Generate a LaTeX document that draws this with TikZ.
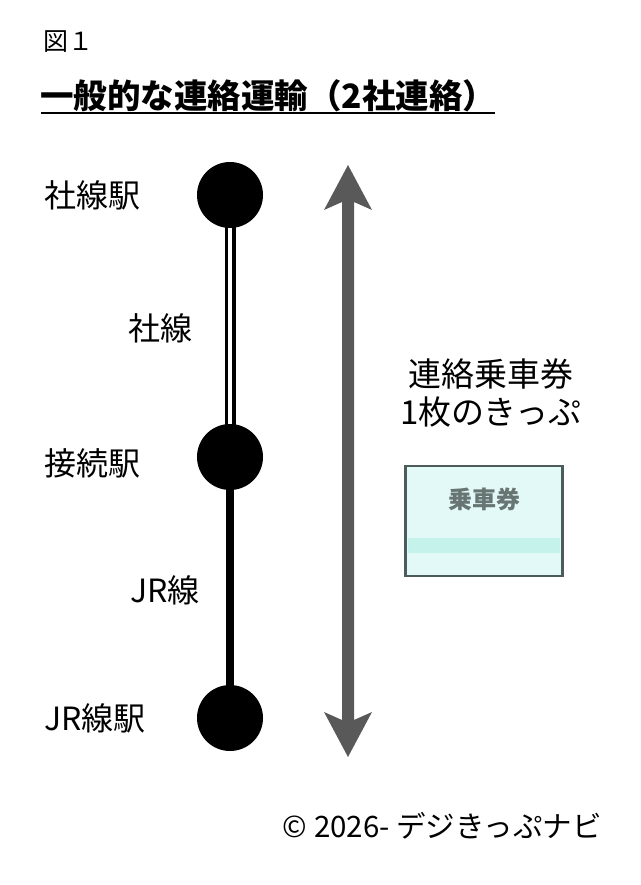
\documentclass[tikz,border=0pt]{standalone}
\usepackage{fontspec}
\setmainfont{Noto Sans CJK JP}
\definecolor{tb}{HTML}{4C5C5A}
\definecolor{tfill}{HTML}{E3F9F7}
\definecolor{tstripe}{HTML}{C5F3EC}
\definecolor{arr}{HTML}{595959}
\begin{document}
\begin{tikzpicture}[x=1pt,y=-1pt,
  st/.style={circle,fill=black,minimum size=66pt,inner sep=0pt},
  lab/.style={font=\fontsize{32}{36}\selectfont,anchor=west,inner sep=0pt},
  clab/.style={font=\fontsize{32}{36}\selectfont,inner sep=0pt}]
\useasboundingbox (0,0) rectangle (640,885);
\node[anchor=west,inner sep=0pt,font=\fontsize{25}{28}\selectfont] (fig) at (43,42) {図１};
\node[anchor=west,inner sep=0pt,font=\fontsize{33.5}{36}\selectfont\bfseries] (title) at (40,96) {一般的な連絡運輸（2社連絡）};
\coordinate (u1) at (41,113); \coordinate (u2) at (495,113);
\draw[line width=1.5pt] (u1) -- (u2);
\coordinate (c1) at (230,195);
\coordinate (c2) at (230,457);
\coordinate (c3) at (230,718);
\draw[line width=11pt] (c1) -- (c2);
\draw[line width=4pt,white] (c1) -- (c2);
\draw[line width=8pt] (c2) -- (c3);
\node[st] (s1) at (c1) {};
\node[st] (s2) at (c2) {};
\node[st] (s3) at (c3) {};
\node[lab] (l1) at (44,195) {社線駅};
\node[clab] (l2) at (160,328) {社線};
\node[lab] (l3) at (44,463) {接続駅};
\node[clab] (l4) at (165,590) {JR線};
\node[lab] (l5) at (44,718) {JR線駅};
\fill[arr] (348,165) -- (372,210) -- (354,202) -- (354,720) -- (372,712) -- (348,757) -- (324,712) -- (342,720) -- (342,202) -- (324,210) -- cycle;
\node[clab,font=\fontsize{33}{36}\selectfont] (t1) at (491,374) {連絡乗車券};
\node[clab,font=\fontsize{33}{36}\selectfont] (t2) at (491,412) {1枚のきっぷ};
\node[draw=tb,line width=2.5pt,fill=tfill,minimum width=157pt,minimum height=110pt,inner sep=0pt] (tk) at (484,521) {};
\fill[tstripe] (408,538) rectangle (560,553);
\node[font=\fontsize{24}{26}\selectfont\bfseries,text=tb!85] (tt) at (484,499) {乗車券};
\node[anchor=east,inner sep=0pt,font=\fontsize{29.5}{32}\selectfont] (c) at (602,826) {© 2026- デジきっぷナビ};
\end{tikzpicture}
\end{document}
